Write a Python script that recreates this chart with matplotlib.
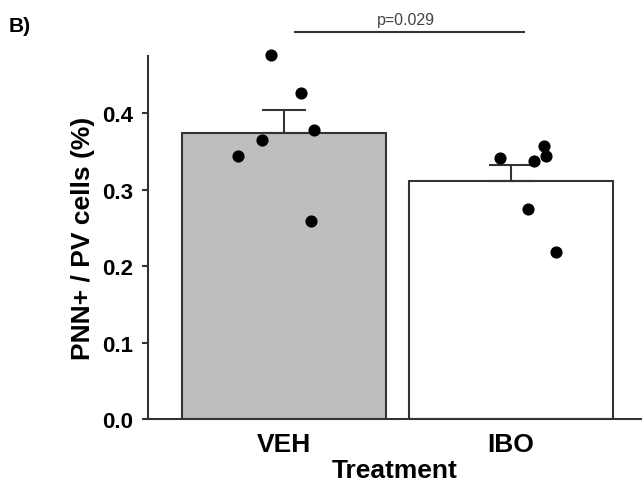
import numpy as np
import matplotlib.pyplot as plt

plt.rcParams['font.family'] = ['Liberation Sans', 'DejaVu Sans']

groups = ["VEH", "IBO"]
veh_pts = [0.476, 0.426, 0.378, 0.365, 0.344, 0.259]
ibo_pts = [0.341, 0.337, 0.357, 0.344, 0.2745, 0.218]
veh_jit = [-0.057, 0.075, 0.132, -0.097, -0.203, 0.119]
ibo_jit = [-0.048, 0.101, 0.145, 0.154, 0.075, 0.198]
sem_top = [0.405, 0.333]
p_text = "p=0.029"

means = [np.mean(veh_pts), np.mean(ibo_pts)]
sems = [sem_top[0] - means[0], sem_top[1] - means[1]]

fig = plt.figure(figsize=(6.42, 4.89), dpi=100)
ax = fig.add_axes([0.2305, 0.1411, 0.7695, 0.7423])

x = np.arange(len(groups))
ax.bar(x, means, width=0.9, color=["#bebebe", "white"], edgecolor="#333333",
       linewidth=1.5, zorder=2)
for i in range(2):
    ax.errorbar(x[i], means[i], yerr=[[0], [sems[i]]], color="#333333",
                capsize=16, elinewidth=1.5, capthick=1.5, zorder=3)

ax.scatter(x[0] + np.array(veh_jit), veh_pts, s=60, color="black", zorder=4, clip_on=False)
ax.scatter(x[1] + np.array(ibo_jit), ibo_pts, s=60, color="black", zorder=4, clip_on=False)

# significance bar
ax.plot([0.048, 1.057], [0.507, 0.507], color="#333333", lw=1.5, clip_on=False)
ax.text(0.535, 0.513, p_text, ha="center", va="bottom", fontsize=11.5, color="#444444")

ax.set_xlim(-0.6, 1.577)
ax.set_ylim(0, 0.475)
ax.set_yticks([0.0, 0.1, 0.2, 0.3, 0.4])
ax.set_yticklabels(["0.0", "0.1", "0.2", "0.3", "0.4"], fontweight="bold", fontsize=16)
ax.set_xticks(x)
ax.set_xticklabels(groups, fontweight="bold", fontsize=19)
ax.tick_params(axis="x", length=0, pad=9)
ax.tick_params(axis="y", length=4, width=1.5, color="#333333", pad=7)
ax.set_xlabel("Treatment", fontweight="bold", fontsize=19, labelpad=2)
ax.set_ylabel("PNN+ / PV cells (%)", fontweight="bold", fontsize=19, labelpad=5)

for s in ["top", "right"]:
    ax.spines[s].set_visible(False)
for s in ["left", "bottom"]:
    ax.spines[s].set_linewidth(1.5)
    ax.spines[s].set_color("#333333")

fig.text(0.014, 0.935, "B)", fontweight="bold", fontsize=15)

fig.savefig("out.png", dpi=100)
